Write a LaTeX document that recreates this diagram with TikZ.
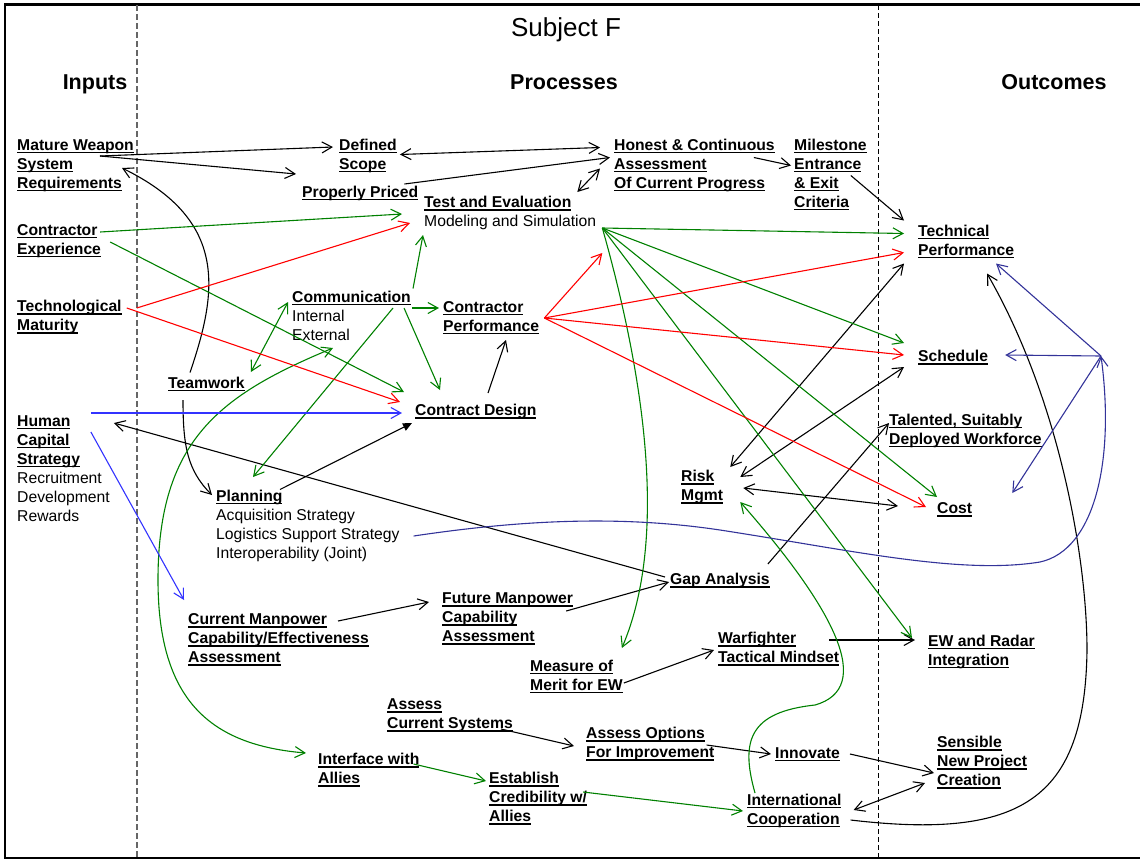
\documentclass[tikz,border=0pt]{standalone}
\usepackage{fontspec}
\setmainfont{Liberation Sans}
\usetikzlibrary{arrows.meta}

\newlength{\hdw}
\newcommand{\labfont}{\fontsize{15.7}{19}\selectfont}
\newcommand{\hd}[1]{\strut\settowidth{\hdw}{\textbf{#1}}\rlap{\rule[-3.2pt]{\hdw}{1.6pt}}\textbf{#1}}

\definecolor{grnline}{RGB}{0,128,0}
\definecolor{redline}{RGB}{255,0,0}
\definecolor{bluline}{RGB}{51,51,255}
\definecolor{navline}{RGB}{51,51,153}

\begin{document}
\begin{tikzpicture}[x=1pt, y=-1pt, >={Straight Barb[length=10pt,width=11pt]},
	lab/.style={anchor=north west, inner sep=0pt, align=left, font=\labfont, yshift=7.5pt},
	hdr/.style={anchor=base, inner sep=0pt, font=\fontsize{21.5}{25}\selectfont\bfseries},
	blk/.style={line width=1.1pt, black},
	grn/.style={line width=1.1pt, grnline},
	rd/.style={line width=1.1pt, redline},
	blu/.style={line width=1.1pt, bluline},
	nav/.style={line width=1.1pt, navline}]
	\useasboundingbox (0,0) rectangle (1140,860);
	\clip (0,0) rectangle (1140,860);
	\draw[line width=2.2pt] (4.7,4.5) rectangle (1150,858.3);
	\draw[black!60, line width=1.6pt, dash pattern=on 5.5pt off 3.5pt] (137,5) -- (137,858);
	\draw[line width=0.8pt, dash pattern=on 5pt off 3pt] (878.7,5) -- (878.7,858);

	\node (title) at (566,36) [anchor=base, font=\fontsize{26}{30}\selectfont] {Subject F};
	\node (inputs) at (95,89) [hdr] {Inputs};
	\node (processes) at (564,89) [hdr] {Processes};
	\node (outcomes) at (1054,89) [hdr] {Outcomes};

	% inputs
	\node (mws) at (17,144) [lab] {\hd{Mature Weapon}\\\hd{System}\\\hd{Requirements}};
	\node (cexp) at (17,229) [lab] {\hd{Contractor}\\\hd{Experience}};
	\node (tmat) at (17,305.5) [lab] {\hd{Technological}\\\hd{Maturity}};
	\node (hcs) at (17,420) [lab] {\hd{Human}\\\hd{Capital}\\\hd{Strategy}\\Recruitment\\Development\\Rewards};

	% processes
	\node (scope) at (339,144) [lab] {\hd{Defined}\\\hd{Scope}};
	\node (priced) at (302,191) [lab] {\hd{Properly Priced}};
	\node (honest) at (614,144) [lab] {\hd{Honest \& Continuous}\\\hd{Assessment}\\\hd{Of Current Progress}};
	\node (milestone) at (794,144) [lab] {\hd{Milestone}\\\hd{Entrance}\\\hd{\& Exit}\\\hd{Criteria}};
	\node (te) at (424,201.5) [lab] {\hd{Test and Evaluation}\\Modeling and Simulation};
	\node (comm) at (292,296) [lab] {\hd{Communication}\\Internal\\External};
	\node (cperf) at (443,306) [lab] {\hd{Contractor}\\\hd{Performance}};
	\node (teamwork) at (168,382) [lab] {\hd{Teamwork}};
	\node (cdesign) at (415,409.5) [lab] {\hd{Contract Design}};
	\node (planning) at (216,495) [lab] {\hd{Planning}\\Acquisition Strategy\\Logistics Support Strategy\\Interoperability (Joint)};
	\node (risk) at (681,475.5) [lab] {\hd{Risk}\\\hd{Mgmt}};
	\node (gap) at (670,578.5) [lab] {\hd{Gap Analysis}};
	\node (curman) at (188,618.5) [lab] {\hd{Current Manpower}\\\hd{Capability/Effectiveness}\\\hd{Assessment}};
	\node (futman) at (442,597.5) [lab] {\hd{Future Manpower}\\\hd{Capability}\\\hd{Assessment}};
	\node (mom) at (530,665) [lab] {\hd{Measure of}\\\hd{Merit for EW}};
	\node (warf) at (718,637.5) [lab] {\hd{Warfighter}\\\hd{Tactical Mindset}};
	\node (acs) at (387,703.5) [lab] {\hd{Assess}\\\hd{Current Systems}};
	\node (aofi) at (586,732.5) [lab] {\hd{Assess Options}\\\hd{For Improvement}};
	\node (innov) at (775,752) [lab] {\hd{Innovate}};
	\node (iwa) at (318,758.5) [lab] {\hd{Interface with}\\\hd{Allies}};
	\node (ecwa) at (489,777.5) [lab] {\hd{Establish}\\\hd{Credibility w/}\\\hd{Allies}};
	\node (intl) at (747,799) [lab] {\hd{International}\\\hd{Cooperation}};

	% outcomes
	\node (techperf) at (918,230) [lab] {\hd{Technical}\\\hd{Performance}};
	\node (schedule) at (918,355.5) [lab] {\hd{Schedule}};
	\node (talented) at (889,419) [lab] {\hd{Talented, Suitably}\\\hd{Deployed Workforce}};
	\node (cost) at (937,507.5) [lab] {\hd{Cost}};
	\node (ewr) at (928,640) [lab] {\hd{EW and Radar}\\\hd{Integration}};
	\node (snpc) at (937,741.5) [lab] {\hd{Sensible}\\\hd{New Project}\\\hd{Creation}};

	\coordinate (tehub) at ([shift={(6,34)}]te.north east);
	\coordinate (cphub) at ([shift={(5,19.5)}]cperf.north east);
	\coordinate (fb) at (1101,356);

	% black
	\draw[blk, ->] ([shift={(-34,19.5)}]mws.north east) -- ([shift={(-6,10.5)}]scope.north west);
	\draw[blk, ->] ([shift={(-34,19.5)}]mws.north east) -- ([shift={(-6,-9.5)}]priced.north west);
	\draw[blk, <->] ([shift={(3,18)}]scope.north east) -- ([shift={(-14,11)}]honest.north west);
	\draw[blk, ->] ([shift={(-14,0.5)}]priced.north east) -- ([shift={(-4,21)}]honest.north west);
	\draw[blk, <->] ([shift={(-19,-2)}]te.north east) -- ([shift={(-14,32)}]honest.north west);
	\draw[blk, ->] ([shift={(-21,21)}]honest.north east) -- ([shift={(-3,29)}]milestone.north west);
	\draw[blk, ->] ([shift={(-16,39)}]milestone.north east) -- ([shift={(-14,-2)}]techperf.north west);
	\draw[blk, ->] ([shift={(22,-2)}]teamwork.north west) .. controls +(28,-82) and +(106,52) .. ([shift={(105,31.5)}]mws.north west);
	\draw[blk, ->] ([shift={(15,25.5)}]teamwork.north west) .. controls +(0,45) and +(-25,-25) .. ([shift={(-4,7.5)}]planning.north west);
	\draw[blk, -{Triangle[length=9pt,width=8pt]}] ([shift={(64,2)}]planning.north west) -- ([shift={(-3,21)}]cdesign.north west);
	\draw[blk, ->] ([shift={(73,-9)}]cdesign.north west) -- ([shift={(63,41.5)}]cperf.north west);
	\draw[blk, ->] ([shift={(-5,6)}]gap.north west) -- ([shift={(4,10.5)}]hcs.north east);
	\draw[blk, ->] ([shift={(-7,21)}]futman.north east) -- ([shift={(-1,11)}]gap.north west);
	\draw[blk, ->] ([shift={(-31,10)}]curman.north east) -- ([shift={(-13,12)}]futman.north west);
	\draw[blk, ->] ([shift={(-2,-7)}]gap.north east) -- ([shift={(0,11.5)}]talented.north west);
	\draw[blk, <->] ([shift={(7,-1)}]risk.north east) -- ([shift={(-14,41)}]techperf.north west);
	\draw[blk, <->] ([shift={(17,9)}]risk.north east) -- ([shift={(-14,19)}]schedule.north west);
	\draw[blk, <->] ([shift={(20,20)}]risk.north east) -- ([shift={(-39,6)}]cost.north west);
	\draw[blk, ->] ([shift={(1,25.5)}]mom.north east) -- ([shift={(-4,20)}]warf.north west);
	\draw[blk, ->] ([shift={(-10,10)}]warf.north east) -- ([shift={(-13,7.5)}]ewr.north west);
	\draw[blk, ->] ([shift={(-12,33)}]acs.north east) -- ([shift={(-12,21)}]aofi.north west);
	\draw[blk, ->] ([shift={(-8,20)}]aofi.north east) -- ([shift={(-4,9.5)}]innov.north west);
	\draw[blk, ->] ([shift={(10,9.5)}]innov.north east) -- ([shift={(-3,39)}]snpc.north west);
	\draw[blk, <->] ([shift={(12,18.5)}]intl.north east) -- ([shift={(-12,49)}]snpc.north west);
	\draw[blk, ->] ([shift={(9,28.5)}]intl.north east) .. controls +(170,20) and +(-2,150) .. (1087,650) .. controls +(0,-90) and +(73,127) .. ([shift={(69,51)}]techperf.north west);

	% green
	\draw[grn, ->] ([shift={(-1,10.5)}]cexp.north east) -- ([shift={(-22,20)}]te.north west);
	\draw[grn, ->] ([shift={(9,20.5)}]cexp.north east) -- ([shift={(-11,-10)}]cdesign.north west);
	\draw[grn, ->] ([shift={(2,0)}]comm.north east) -- ([shift={(-1,41)}]te.north west);
	\draw[grn, ->] ([shift={(1,19.5)}]comm.north east) -- ([shift={(-4,9.5)}]cperf.north west);
	\draw[grn, ->] ([shift={(-7,19.5)}]comm.north east) -- ([shift={(25,-12)}]cdesign.north west);
	\draw[grn, ->] ([shift={(-18,19.5)}]comm.north east) -- ([shift={(37,-10.5)}]planning.north west);
	\draw[grn, <->] ([shift={(-4,13.5)}]comm.north west) -- ([shift={(6,-2.5)}]teamwork.north east);
	\draw[grn, <->] ([shift={(41,59.5)}]comm.north west) .. controls +(-113,47) and +(0,-140) .. (158,580) .. controls +(0,120) and +(-96,-8) .. ([shift={(-12,2)}]iwa.north west);
	\draw[grn, ->] ([shift={(-6,13)}]iwa.north east) -- ([shift={(-3,11)}]ecwa.north west);
	\draw[grn, ->] ([shift={(-4,22)}]ecwa.north east) -- ([shift={(-4,19.5)}]intl.north west);
	\draw[grn, ->] ([shift={(8,1.5)}]intl.north west) .. controls +(-15,-53) and +(-65,7) .. (815,705) .. controls +(60,-17) and +(95,108) .. ([shift={(17,34)}]risk.north east);
	\draw[grn, ->] (tehub) -- ([shift={(-14,11)}]techperf.north west);
	\draw[grn, ->] (tehub) -- ([shift={(-14,-5)}]schedule.north west);
	\draw[grn, ->] (tehub) -- ([shift={(0,-3)}]cost.north west);
	\draw[grn, ->] (tehub) -- ([shift={(-16,5.5)}]ewr.north west);
	\draw[grn, ->] (tehub) .. controls +(43,152) and +(46,-108) .. ([shift={(-1,-9.5)}]mom.north east);

	% red
	\draw[rd, ->] ([shift={(15,10)}]tmat.north east) -- ([shift={(-14,29)}]te.north west);
	\draw[rd, ->] ([shift={(5,10)}]tmat.north east) -- ([shift={(-15,0)}]cdesign.north west);
	\draw[rd, ->] (cphub) -- ([shift={(6,59)}]te.north east);
	\draw[rd, ->] (cphub) -- ([shift={(-14,30)}]techperf.north west);
	\draw[rd, ->] (cphub) -- ([shift={(-14,7)}]schedule.north west);
	\draw[rd, ->] (cphub) -- ([shift={(-11,7)}]cost.north west);

	% blue
	\draw[blu, ->] ([shift={(-19,0.5)}]hcs.north east) -- ([shift={(-13,11)}]cdesign.north west);
	\draw[blu, ->] ([shift={(-19,19.5)}]hcs.north east) -- ([shift={(-4,-11)}]curman.north west);

	% feedback
	\draw[nav, ->] (fb) -- ([shift={(78,41)}]techperf.north west);
	\draw[nav, ->] (fb) -- ([shift={(17,7)}]schedule.north east);
	\draw[nav, ->] (fb) -- ([shift={(40,-7)}]cost.north east);
	\draw[nav, ->] ([shift={(14,48.5)}]planning.north east) .. controls +(107,-16) and +(-100,-15) .. (720,530) .. controls +(130,20) and +(-80,13) .. (1040,562) .. controls +(55,-12) and +(14,104) .. (fb);
\end{tikzpicture}
\end{document}
